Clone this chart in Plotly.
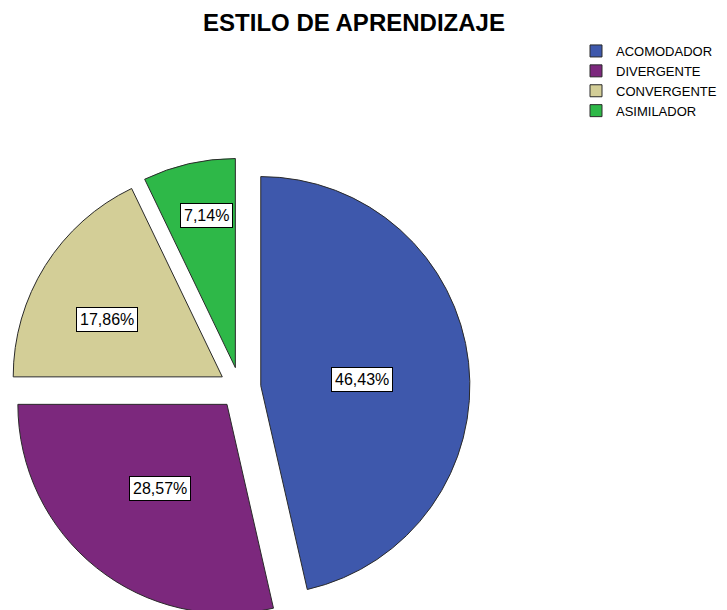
import math
import plotly.graph_objects as go

# ---- data ----
categories = ["ACOMODADOR", "DIVERGENTE", "CONVERGENTE", "ASIMILADOR"]
percentages = [46.43, 28.57, 17.86, 7.14]
title_text = "ESTILO DE APRENDIZAJE"

# ---- style ----
colors = ["#3E58AC", "#7C287D", "#D3CE97", "#2EB848"]
label_radius = [0.485, 0.512, 0.615, 0.743]   # label distance (fraction of radius) from slice tip
label_angle_shift = [2.6, 0.0, -5.0, 1.8]     # degrees, label offset from slice bisector
W, H = 727, 610
PULL = 0.1
cx_px, cy_px, half_px = 232, 380, 230     # pie box centre / half size in pixels
FONT = "Liberation Sans, Arial, sans-serif"

dom_x = [max(0.0, (cx_px - half_px) / W), (cx_px + half_px) / W]
dom_y = [max(0.0, 1 - (cy_px + half_px) / H), 1 - (cy_px - half_px) / H]
R = half_px / (1 + PULL)

labels_text = [f"{v:.2f}".replace(".", ",") + "%" for v in percentages]

fig = go.Figure(go.Pie(
    labels=categories,
    values=percentages,
    sort=False,
    direction="clockwise",
    rotation=0,
    pull=[PULL] * len(categories),
    marker=dict(colors=colors, line=dict(color="#2a2a2a", width=1)),
    textinfo="none",
    hoverinfo="label+percent",
    domain=dict(x=dom_x, y=dom_y),
))

# boxed percentage labels placed along each slice's bisector
total = sum(percentages)
cum = 0.0
annotations = []
for v, t, f, da in zip(percentages, labels_text, label_radius, label_angle_shift):
    mid = math.radians((cum + v / 2) / total * 360 + da)
    cum += v
    dist = (PULL + f) * R
    px = cx_px + dist * math.sin(mid)
    py = cy_px - dist * math.cos(mid)
    annotations.append(dict(
        x=px / W, y=1 - py / H, xref="paper", yref="paper",
        text=t, showarrow=False,
        font=dict(family=FONT, size=16, color="black"),
        bgcolor="white", bordercolor="black", borderwidth=1, borderpad=3,
        xanchor="center", yanchor="middle",
    ))

fig.update_layout(
    width=W, height=H,
    margin=dict(l=0, r=0, t=0, b=0),
    paper_bgcolor="white",
    plot_bgcolor="white",
    title=dict(text=title_text, x=346 / W, xanchor="center",
               y=1 - 15 / H, yanchor="middle", yref="container",
               font=dict(family=FONT, size=24, color="black", weight="bold")),
    showlegend=True,
    legend=dict(x=568 / W, y=1 - 28 / H, xanchor="left", yanchor="top",
                font=dict(family=FONT, size=13, color="black"),
                bgcolor="rgba(0,0,0,0)", traceorder="normal"),
    annotations=annotations,
)

fig.write_html("out.html")
